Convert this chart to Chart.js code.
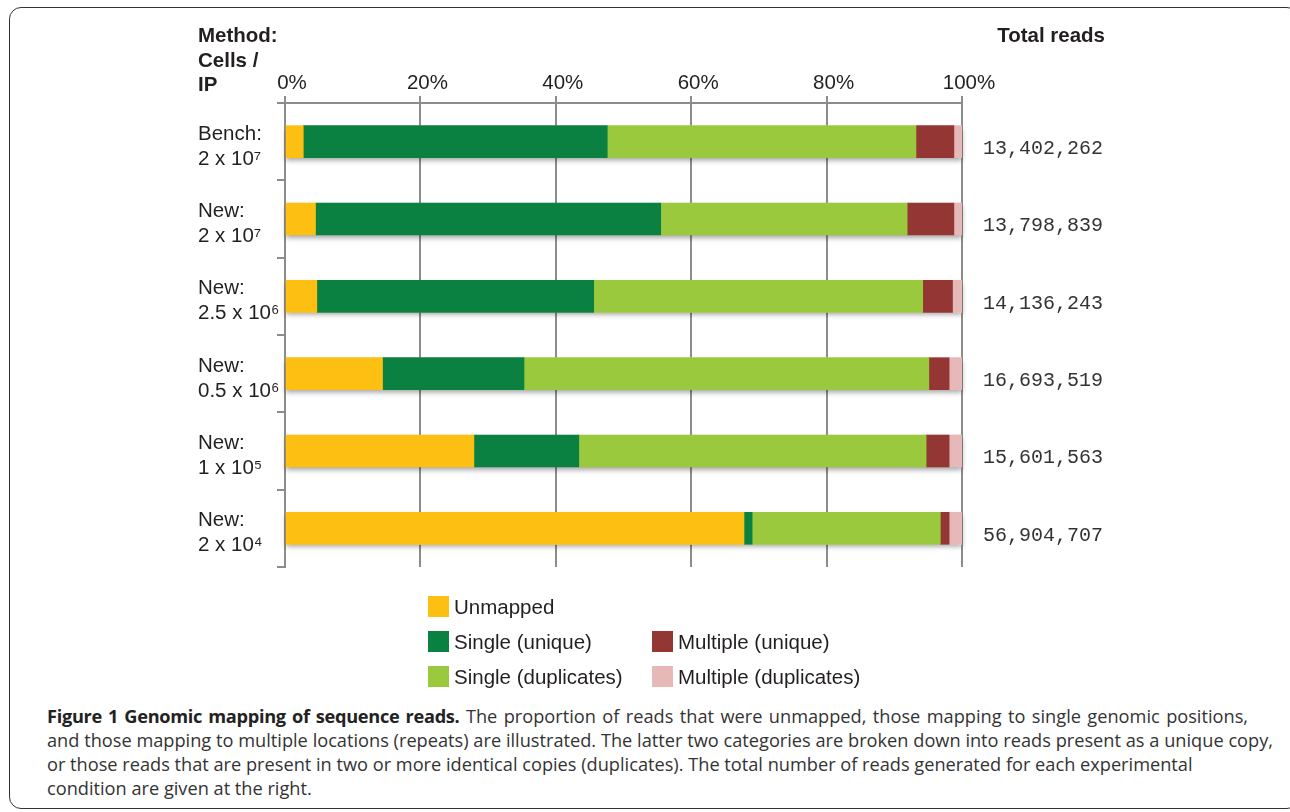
<!DOCTYPE html>
<html>
<head>
<meta charset="utf-8">
<script src="https://cdn.jsdelivr.net/npm/chart.js@4.4.1/dist/chart.umd.min.js"></script>
<style>
  html, body { margin: 0; padding: 0; background: #fff; }
  body { width: 1290px; height: 812px; position: relative; overflow: hidden; }
  .frame {
    position: absolute; left: 9px; top: 7px; width: 1290px; height: 802px;
    border: 1.5px solid #333; border-radius: 12px; box-sizing: border-box;
  }
  .chart-box { position: absolute; left: 0; top: 0; width: 1290px; height: 600px; }
  .head {
    position: absolute; font-family: "Liberation Sans", Arial, sans-serif;
    font-weight: bold; font-size: 20.5px; line-height: 24.7px; color: #231f20;
  }
  #head-left { left: 198px; top: 23px; }
  #head-right { right: 185px; top: 23px; text-align: right; }
  #legend {
    position: absolute; left: 428px; top: 596px;
    display: grid; grid-template-columns: 224px 250px; grid-auto-rows: 35px;
    font-family: "Liberation Sans", Arial, sans-serif; font-size: 20.5px; color: #231f20;
  }
  .item { display: flex; align-items: center; height: 21px; white-space: nowrap; }
  .swatch { width: 21px; height: 21px; margin-right: 5px; flex: none; }
  #caption {
    position: absolute; left: 47px; top: 704px;
    font-family: "Open Sans", sans-serif; font-size: 18.2px; line-height: 24px;
    color: #333; white-space: nowrap;
  }
  #caption .ln { text-align: justify; text-align-last: justify; }
  #caption b { color: #222; letter-spacing: -0.3px; }
</style>
</head>
<body>
<div class="frame"></div>
<div class="chart-box"><canvas id="chart"></canvas></div>
<div class="head" id="head-left">Method:<br>Cells /<br>IP</div>
<div class="head" id="head-right">Total reads</div>
<div id="legend"></div>
<div id="caption">
  <div class="ln" style="width:1201px"><b>Figure 1 Genomic mapping of sequence reads.</b> The proportion of reads that were unmapped, those mapping to single genomic positions,</div>
  <div class="ln" style="width:1226px">and those mapping to multiple locations (repeats) are illustrated. The latter two categories are broken down into reads present as a unique copy,</div>
  <div class="ln" style="width:1142px">or those reads that are present in two or more identical copies (duplicates). The total number of reads generated for each experimental</div>
  <div>condition are given at the right.</div>
</div>
<script>
const methods = ['Bench:', 'New:', 'New:', 'New:', 'New:', 'New:'];
const cellCounts = ['2 x 10⁷', '2 x 10⁷', '2.5 x 10⁶', '0.5 x 10⁶', '1 x 10⁵', '2 x 10⁴'];
const totalReads = ['13,402,262', '13,798,839', '14,136,243', '16,693,519', '15,601,563', '56,904,707'];

// percent of reads per category
const unmapped = [2.7, 4.5, 4.7, 14.4, 27.9, 67.8];
const singleUnique = [44.9, 51.0, 40.9, 20.9, 15.5, 1.2];
const singleDuplicates = [45.6, 36.4, 48.6, 59.8, 51.3, 27.8];
const multipleUnique = [5.6, 6.9, 4.4, 3.0, 3.4, 1.3];
const multipleDuplicates = [1.2, 1.2, 1.4, 1.9, 1.9, 1.9];

const xTicks = [0, 20, 40, 60, 80, 100];

const GRID = '#8c8c8c';
const SANS = '"Liberation Sans", Arial, sans-serif';
const TEXT = '#231f20';

const series = [
  { label: 'Unmapped', data: unmapped, color: '#fcbf12' },
  { label: 'Single (unique)', data: singleUnique, color: '#0a8041' },
  { label: 'Single (duplicates)', data: singleDuplicates, color: '#9bc93d' },
  { label: 'Multiple (unique)', data: multipleUnique, color: '#943634' },
  { label: 'Multiple (duplicates)', data: multipleDuplicates, color: '#e6b9b8' },
];

// soft drop shadow under each whole bar
const barShadowPlugin = {
  id: 'barShadow',
  beforeDatasetsDraw(chart) {
    const first = chart.getDatasetMeta(0).data;
    const last = chart.getDatasetMeta(chart.data.datasets.length - 1).data;
    const { ctx } = chart;
    ctx.save();
    ctx.shadowColor = 'rgba(0, 0, 0, 0.35)';
    ctx.shadowBlur = 5;
    ctx.shadowOffsetY = 3;
    ctx.fillStyle = '#ffffff';
    first.forEach((bar, index) => {
      const end = last[index];
      ctx.fillRect(bar.base, bar.y - bar.height / 2, end.x - bar.base, bar.height);
    });
    ctx.restore();
  },
};

const chart = new Chart(document.getElementById('chart'), {
  type: 'bar',
  data: {
    labels: methods.map((method, index) => [method, cellCounts[index]]),
    datasets: series.map((s) => ({
      label: s.label,
      data: s.data,
      backgroundColor: s.color,
      borderWidth: 0,
      barThickness: 32,
      yAxisID: 'y',
    })),
  },
  plugins: [barShadowPlugin],
  options: {
    indexAxis: 'y',
    responsive: true,
    maintainAspectRatio: false,
    animation: false,
    layout: { padding: { left: 198, right: 186, top: 63, bottom: 27 } },
    plugins: {
      legend: { display: false },
      tooltip: { enabled: false },
    },
    scales: {
      x: {
        position: 'top',
        stacked: true,
        min: 0,
        max: 100,
        afterBuildTicks(scale) {
          scale.ticks = xTicks.map((value) => ({ value }));
        },
        afterFit(scale) { scale.height = 40; },
        grid: { color: GRID, lineWidth: 2, tickLength: 7 },
        border: { display: true, color: GRID, width: 2 },
        ticks: {
          callback: (value) => `${value}%`,
          font: { family: SANS, size: 20.5 },
          color: TEXT,
          padding: 0,
          labelOffset: 7,
          maxRotation: 0,
        },
      },
      y: {
        position: 'left',
        stacked: true,
        afterFit(scale) { scale.width = 87; },
        grid: { drawOnChartArea: false, color: GRID, lineWidth: 2, tickLength: 8, offset: true },
        border: { display: true, color: GRID, width: 2 },
        ticks: {
          crossAlign: 'far',
          font: { family: SANS, size: 20.5, lineHeight: 1.22 },
          color: TEXT,
          labelOffset: 5,
        },
      },
      y2: {
        type: 'category',
        labels: totalReads,
        position: 'right',
        offset: true,
        afterFit(scale) { scale.width = 142; },
        grid: { display: false, drawTicks: false, tickLength: 0 },
        border: { display: false },
        ticks: {
          crossAlign: 'near',
          padding: 21,
          font: { family: '"Liberation Mono", "Courier New", monospace', size: 20 },
          color: '#333',
          labelOffset: 7,
        },
      },
    },
  },
});

// legend laid out as in the figure: [dataset index, row, column]
const legendPlaces = [[0, 1, 1], [1, 2, 1], [2, 3, 1], [3, 2, 2], [4, 3, 2]];
document.getElementById('legend').innerHTML = legendPlaces
  .map(([index, row, col]) => {
    const s = series[index];
    return `<div class="item" style="grid-row:${row};grid-column:${col}">` +
      `<span class="swatch" style="background:${s.color}"></span>${s.label}</div>`;
  })
  .join('');
</script>
</body>
</html>
